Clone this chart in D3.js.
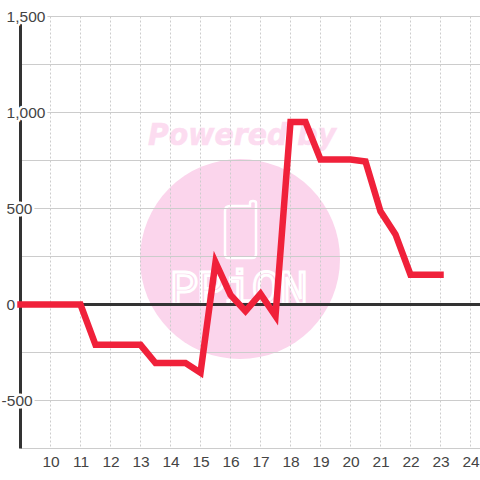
<!DOCTYPE html>
<html>
<head>
<meta charset="utf-8">
<script src="https://d3js.org/d3.v7.min.js"></script>
<style>
    html, body { margin: 0; padding: 0; background: #fff; }
    svg { display: block; }
    text { font-family: "Liberation Sans", sans-serif; font-size: 15px; fill: #444; }
</style>
</head>
<body>
<div id="chart"></div>
<script>
    var hours = [9, 9.5, 10, 10.5, 11, 11.5, 12, 12.5, 13, 13.5, 14, 14.5, 15, 15.5, 16, 16.5,
        17, 17.5, 18, 18.5, 19, 19.5, 20, 20.5, 21, 21.5, 22, 22.5, 23];
    var profit = [0, 0, 0, 0, 0, -210, -210, -210, -210, -305, -305, -305, -355, 220, 50, -35,
        55, -60, 950, 950, 755, 755, 755, 745, 485, 365, 155, 155, 155];
    var xTicks = [10, 11, 12, 13, 14, 15, 16, 17, 18, 19, 20, 21, 22, 23, 24];
    var yTicks = [-750, -500, -250, 0, 250, 500, 750, 1000, 1250, 1500];
    var yLabels = [-500, 0, 500, 1000, 1500];

    var width = 480, height = 480;
    var margin = { top: 16.5, left: 20.5, bottom: 31.5 };

    var x = d3.scaleLinear()
        .domain([9, 9 + (width - margin.left) / 30])
        .range([margin.left, width]);

    var y = d3.scaleLinear()
        .domain([-750, 1500])
        .range([height - margin.bottom, margin.top]);

    var svg = d3.select("#chart").append("svg")
        .attr("width", width)
        .attr("height", height);

    // watermark sits under the grid
    var mark = svg.append("g");
    mark.append("circle")
        .attr("cx", 240).attr("cy", 259).attr("r", 100)
        .attr("fill", "#fbd5ec");
    mark.append("text")
        .attr("x", 148).attr("y", 145)
        .attr("textLength", 188)
        .attr("lengthAdjust", "spacingAndGlyphs")
        .style("font-family", "DejaVu Sans")
        .style("font-size", "31px")
        .style("font-weight", "bold")
        .style("font-style", "italic")
        .style("fill", "#fcdcf0")
        .style("stroke", "#fcdcf0")
        .style("stroke-width", 0.6)
        .text("Powered by");
    mark.append("path")
        .attr("d", "M230 206H250V203Q250 201 253 201Q256 201 256 203V254Q256 258 252 258H229Q225 258 225 254V211Q225 206 230 206Z")
        .attr("fill", "none")
        .attr("stroke", "#fff")
        .attr("stroke-width", 2.5);
    mark.append("text")
        .attr("x", 170).attr("y", 304)
        .attr("textLength", 138)
        .attr("lengthAdjust", "spacing")
        .style("font-family", "Liberation Mono")
        .style("font-size", "48px")
        .style("fill", "#fbd5ec")
        .style("stroke", "#fff")
        .style("stroke-width", 2.8)
        .text("PPiON");

    // grid
    svg.append("g").selectAll("line")
        .data(xTicks)
        .enter().append("line")
        .attr("x1", function(d) { return x(d); })
        .attr("x2", function(d) { return x(d); })
        .attr("y1", margin.top)
        .attr("y2", height - margin.bottom)
        .attr("stroke", "#ccc")
        .attr("stroke-dasharray", "2,2");

    svg.append("g").selectAll("line")
        .data(yTicks)
        .enter().append("line")
        .attr("x1", margin.left)
        .attr("x2", width)
        .attr("y1", function(d) { return y(d); })
        .attr("y2", function(d) { return y(d); })
        .attr("stroke", "#ccc");

    // axis lines
    svg.append("line")
        .attr("x1", margin.left).attr("x2", margin.left)
        .attr("y1", margin.top).attr("y2", height - margin.bottom)
        .attr("stroke", "#333")
        .attr("stroke-width", 3);

    svg.append("line")
        .attr("x1", margin.left).attr("x2", width)
        .attr("y1", y(0)).attr("y2", y(0))
        .attr("stroke", "#333")
        .attr("stroke-width", 3);

    var xAxis = d3.axisBottom(x)
        .tickValues(xTicks)
        .tickSize(0)
        .tickPadding(0)
        .tickFormat(d3.format("d"));

    // plain hyphen for negatives, not the unicode minus
    var yFormat = d3.formatLocale({ decimal: ".", thousands: ",", grouping: [3], currency: ["", ""], minus: "-" }).format(",");

    var yAxis = d3.axisLeft(y)
        .tickValues(yLabels)
        .tickSize(0)
        .tickFormat(yFormat);

    var gx = svg.append("g")
        .attr("transform", "translate(0," + (height - margin.bottom) + ")")
        .call(xAxis);
    gx.select(".domain").remove();
    gx.selectAll("text")
        .attr("y", 18.5)
        .attr("dy", "0")
        .style("font-size", "15.5px");

    var gy = svg.append("g").call(yAxis);
    gy.select(".domain").remove();
    gy.selectAll("text")
        .attr("x", function(d) { return d < 0 ? 1.6 : 6.6; })
        .attr("dy", "0.3em")
        .style("text-anchor", "start")
        .style("font-size", "15.5px")
        .style("paint-order", "stroke")
        .style("stroke", "#fff")
        .style("stroke-width", 5)
        .style("stroke-linejoin", "round");

    var line = d3.line()
        .x(function(d, i) { return x(hours[i]); })
        .y(function(d) { return y(d); });

    svg.append("path")
        .datum(profit)
        .attr("fill", "none")
        .attr("stroke", "#f0213a")
        .attr("stroke-width", 6.5)
        .attr("stroke-linecap", "square")
        .attr("stroke-linejoin", "miter")
        .attr("d", line);
</script>
</body>
</html>
